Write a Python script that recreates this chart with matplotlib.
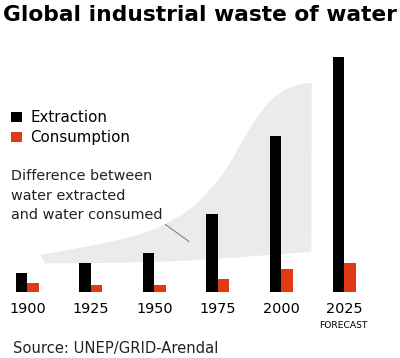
import numpy as np
import matplotlib
matplotlib.use("Agg")
import matplotlib.pyplot as plt
from matplotlib.path import Path
from matplotlib.patches import PathPatch

# data (arbitrary units, ~km3)
years = [1900, 1925, 1950, 1975, 2000, 2025]
year_labels = ["1900", "1925", "1950", "1975", "2000", "2025"]
extraction = [97, 145, 195, 392, 783, 1175]
consumption = [48, 38, 38, 67, 115, 145]

# outline of the grey "difference" band (control points)
band_top_x = [1904.9, 1927.3, 1947.0, 1956.2, 1964.1, 1972.0, 1978.5,
              1983.8, 1991.7, 1999.6, 2007.5, 2012.1]
band_top_y = [186, 236, 295, 353, 411, 511, 611, 736, 905, 1005, 1042, 1048]
band_bot_x = [2011.9, 1980.0, 1948.0, 1906.9]
band_bot_y = [203, 170, 148, 145]

BLACK = "#000000"
RED = "#e03a14"
GREY = "#ebebeb"


def smooth_path(px, py):
    # quadratic curves through the midpoints of the control polygon
    pts = list(zip(px, py))
    verts = [pts[0]]
    codes = [Path.MOVETO]
    for i in range(1, len(pts) - 1):
        mid = ((pts[i][0] + pts[i + 1][0]) / 2, (pts[i][1] + pts[i + 1][1]) / 2)
        verts += [pts[i], mid]
        codes += [Path.CURVE3, Path.CURVE3]
    verts.append(pts[-1])
    codes.append(Path.LINETO)
    return verts, codes


W, H = 400, 358
fig = plt.figure(figsize=(W / 100, H / 100), dpi=100)
base = 65.7  # baseline, px from bottom
ax = fig.add_axes([0, base / H, 1, 1 - base / H])
ax.set_xlim(1889.16, 2046.9)
ax.set_ylim(0, (H - base) * 5)

tv, tc = smooth_path(band_top_x, band_top_y)
bv, bc = smooth_path(band_bot_x, band_bot_y)
bc[0] = Path.LINETO
verts = tv + bv + [tv[0]]
codes = tc + bc + [Path.CLOSEPOLY]
ax.add_patch(PathPatch(Path(verts, codes), facecolor=GREY, lw=0, zorder=0))

bw = 4.53
yr = np.array(years)
b1 = ax.bar(yr - bw / 2, extraction, bw, color=BLACK, label="Extraction", zorder=2)
b2 = ax.bar(yr + bw / 2, consumption, bw, color=RED, label="Consumption", zorder=2)

for s in ax.spines.values():
    s.set_visible(False)
ax.set_yticks([])
ax.set_xticks(years)
ax.set_xticklabels(year_labels, fontsize=10.4)
ax.tick_params(axis="x", length=0, pad=7)

ax.legend(handles=[b1, b2], loc="upper left", bbox_to_anchor=(11 / W, 1 - 110 / H),
          bbox_transform=fig.transFigure, frameon=False, fontsize=10.8,
          handlelength=0.7, handleheight=0.7, handletextpad=0.6,
          labelspacing=0.36, borderaxespad=0, borderpad=0)

ax.annotate("Difference between\nwater extracted\nand water consumed",
            xy=(1963.8, 253), xycoords="data",
            xytext=(11 / W, 1 - 169 / H), textcoords="figure fraction",
            ha="left", va="top", fontsize=10.4, color="#222222", linespacing=1.52,
            arrowprops=dict(arrowstyle="-", color="#777777", lw=0.7,
                            relpos=(1, 0), shrinkA=0, shrinkB=0))

fig.text(3 / W, 1 - 21 / H, "Global industrial waste of water",
         fontsize=15.7, fontweight="bold", va="baseline", ha="left")
fig.text(343.5 / W, 1 - 328.3 / H, "FORECAST", fontsize=6.6,
         ha="center", va="baseline")
fig.text(12.7 / W, 1 - 352.7 / H, "Source: UNEP/GRID-Arendal",
         fontsize=10.6, ha="left", va="baseline", color="#222222")

fig.savefig("out.png", dpi=100)
